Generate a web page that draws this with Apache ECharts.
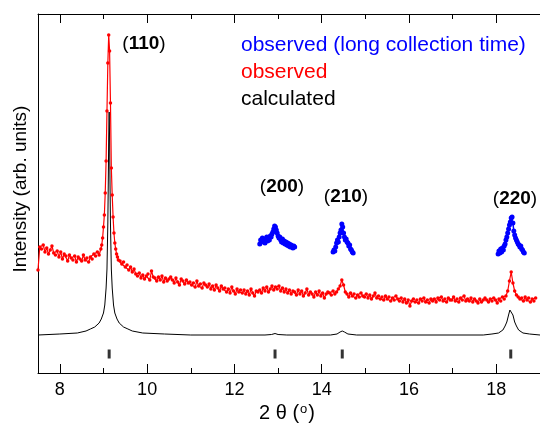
<!DOCTYPE html>
<html>
<head>
<meta charset="utf-8">
<script src="https://cdn.jsdelivr.net/npm/echarts@6/dist/echarts.min.js"></script>
<style>
html,body{margin:0;padding:0;background:#fff}
#main{width:540px;height:423px}
</style>
</head>
<body>
<div id="main"></div>
<script>
// observed (red): three stretches of the scan, each on a regular 2θ grid
var redLeftStart = 7.50, redLeftStep = 0.04;
var redLeft = [103,126,124,128,121,125,119,123,127,120,
  118,122,116,121,114,119,117,112,118,115,
  113,117,111,116,114,112,118,113,115,111,
  116,114,119,117,121,118,124];
var redPeakStart = 8.96, redPeakStep = 0.02;
var redPeak = [128,135,146,158,180,212,262,310,338,322,
  270,205,178,156,140,130,124,119,116,113];
var redRightStart = 9.38, redRightStep = 0.04;
var redRight = [112,109,111,106,108,103,106,101,104,99,
  97,100,95,98,94,97,99,93,102,96,
  95,92,96,93,97,91,95,92,94,96,
  93,90,95,91,88,94,92,89,93,90,
  91,88,90,86,92,87,89,85,90,88,
  86,89,84,87,83,88,85,82,87,84,
  85,81,84,80,86,82,79,84,81,83,
  80,83,79,82,78,84,80,77,82,81,
  83,80,85,82,86,81,84,87,83,86,
  84,87,82,85,81,84,80,83,79,82,
  81,78,83,79,82,77,80,84,78,81,
  79,76,81,78,82,77,80,75,79,81,
  80,78,82,79,81,84,87,93,88,81,
  79,76,80,77,79,75,78,76,80,77,
  76,79,75,78,74,77,80,75,77,74,
  76,73,77,74,76,72,75,73,77,74,
  72,75,71,74,70,73,67,72,74,71,
  73,70,74,72,75,71,73,70,74,72,
  74,71,75,73,76,72,74,71,75,73,
  73,76,72,74,71,75,73,77,72,74,
  72,75,71,74,72,70,74,71,73,75,
  73,71,74,72,75,73,70,74,72,76,
  74,77,82,92,101,90,82,78,76,74,
  75,72,76,73,75,71,74,72,75];

// observed, long collection time (blue), step 0.02
var blue200Start = 12.58;
var blue200 = [129,133,131,135,132,134,130,133,136,132,
  135,133,137,136,139,141,144,147,146,143,
  140,137,135,136,133,131,134,130,132,129,
  131,128,130,127,129,126,128,127,125,127,126];
var blue210Start = 14.26;
var blue210 = [121,123,122,126,130,133,131,136,140,143,
  149,146,140,136,133,134,131,130,127,128,
  124,123,121,120];
var blue220Start = 18.04;
var blue220 = [119,122,120,124,121,125,123,127,129,133,
  136,140,144,148,151,155,156,150,142,138,
  135,133,131,129,128,126,127,124,123,121,120];
var blueStep = 0.02;

// calculated (black)
var calcTheta = [7.5,8.0,8.4,8.6,8.7,8.8,8.9,8.95,9.0,9.03,9.06,9.08,9.1,9.11,9.12,9.13,
  9.14,9.15,9.16,9.18,9.2,9.23,9.26,9.31,9.36,9.46,9.56,9.66,9.9,10.4,11.0,
  12.7,12.85,12.93,13.0,13.2,14.2,14.35,14.42,14.47,14.52,14.6,14.8,
  17.7,17.9,18.05,18.15,18.2,18.24,18.28,18.31,18.33,18.35,18.38,18.42,18.46,18.51,18.61,18.76,19.0];
var calcI = [38,39,40,42,44,46,50,54,60,68,85,104,150,190,235,261,
  235,190,150,104,85,68,60,54,50,46,44,42,40,39,38,
  38,38.5,39.5,38.5,38,38,39,41,42,41,39,38,
  38,39,40,43,47,51,58,63,65,63,58,51,47,43,40,39,38];

// reflection positions
var peakPos = [9.13, 12.93, 14.47, 18.33];
var peakMarkY = 19;

var majorTicks = [8,10,12,14,16,18];
var minorTicks = [8,9,10,11,12,13,14,15,16,17,18,19];

function toPairs(start, step, vals){
  return vals.map(function(v, i){ return [+(start + step * i).toFixed(2), v]; });
}

var redData = toPairs(redLeftStart, redLeftStep, redLeft)
  .concat(toPairs(redPeakStart, redPeakStep, redPeak))
  .concat(toPairs(redRightStart, redRightStep, redRight));
var calcData = calcTheta.map(function(t, i){ return [t, calcI[i]]; });
var markData = peakPos.map(function(p){ return [p, peakMarkY]; });

var FONT = 'Liberation Sans, Arial, sans-serif';
var BLUE = '#0000ff';

function xAx(pos, ticks, len, showLine, labels){
  return {
    type: 'value', min: 7.5, max: 19, position: pos,
    axisLine: {show: showLine, onZero: false, lineStyle: {color: '#000', width: 1}},
    axisTick: {show: true, inside: true, length: len, customValues: ticks, lineStyle: {color: '#000', width: 1}},
    axisLabel: labels ? {show: true, customValues: majorTicks, color: '#000', fontSize: 18, fontFamily: FONT, margin: 8} : {show: false},
    splitLine: {show: false}
  };
}

function blueSeries(start, vals){
  return {
    type: 'line', data: toPairs(start, blueStep, vals),
    symbol: 'circle', symbolSize: 5, showAllSymbol: true,
    itemStyle: {color: BLUE}, lineStyle: {color: BLUE, width: 1.5}
  };
}

function hkl(txt, x, y){
  return {
    type: 'text', x: x, y: y,
    style: {
      text: '{p|(}{b|' + txt + '}{p|)}',
      align: 'center', verticalAlign: 'middle',
      rich: {
        p: {fontSize: 19, fontFamily: FONT, fill: '#000'},
        b: {fontSize: 19, fontWeight: 'bold', fontFamily: FONT, fill: '#000'}
      }
    }
  };
}

var myChart = echarts.init(document.getElementById('main'));
var option = {
  animation: false,
  grid: {left: 38, top: 14, width: 509, height: 359, containLabel: false},
  xAxis: [
    xAx('bottom', minorTicks, 5, true, false),
    xAx('bottom', majorTicks, 9, false, true),
    xAx('top', minorTicks, 5, true, false),
    xAx('top', majorTicks, 9, false, false)
  ],
  yAxis: {
    type: 'value', min: 0, max: 359,
    axisLine: {show: true, lineStyle: {color: '#000', width: 1}},
    axisTick: {show: false}, axisLabel: {show: false}, splitLine: {show: false}
  },
  series: [
    {
      type: 'line', data: calcData, symbol: 'none',
      lineStyle: {color: '#000', width: 1}
    },
    {
      type: 'line', data: redData,
      symbol: 'circle', symbolSize: 3.5, showAllSymbol: true,
      itemStyle: {color: '#ff0000'}, lineStyle: {color: '#ff0000', width: 1.2}
    },
    blueSeries(blue200Start, blue200),
    blueSeries(blue210Start, blue210),
    blueSeries(blue220Start, blue220),
    {
      type: 'scatter', data: markData, symbol: 'rect', symbolSize: [3, 9],
      itemStyle: {color: '#000'}
    }
  ],
  graphic: [
    {type: 'text', x: 241, y: 45, style: {text: 'observed (long collection time)', fill: BLUE, fontSize: 21, fontFamily: FONT, verticalAlign: 'middle'}},
    {type: 'text', x: 241, y: 72, style: {text: 'observed', fill: '#ff0000', fontSize: 21, fontFamily: FONT, verticalAlign: 'middle'}},
    {type: 'text', x: 241, y: 99, style: {text: 'calculated', fill: '#000', fontSize: 21, fontFamily: FONT, verticalAlign: 'middle'}},
    hkl('110', 144, 44),
    hkl('200', 282, 187),
    hkl('210', 346, 197),
    hkl('220', 515, 199),
    {
      type: 'text', x: 287, y: 413,
      style: {
        text: '{n|2 θ (}{s|o}{n|)}', align: 'center', verticalAlign: 'middle',
        rich: {
          n: {fontSize: 20, fontFamily: FONT, fill: '#000'},
          s: {fontSize: 13, fontFamily: FONT, fill: '#000', verticalAlign: 'top', padding: [0, 1, 7, 1]}
        }
      }
    },
    {
      type: 'text', x: 21, y: 189, rotation: Math.PI / 2,
      style: {text: 'Intensity (arb. units)', fill: '#000', fontSize: 19, fontFamily: FONT, align: 'center', verticalAlign: 'middle'}
    }
  ]
};
myChart.setOption(option);
</script>
</body>
</html>
